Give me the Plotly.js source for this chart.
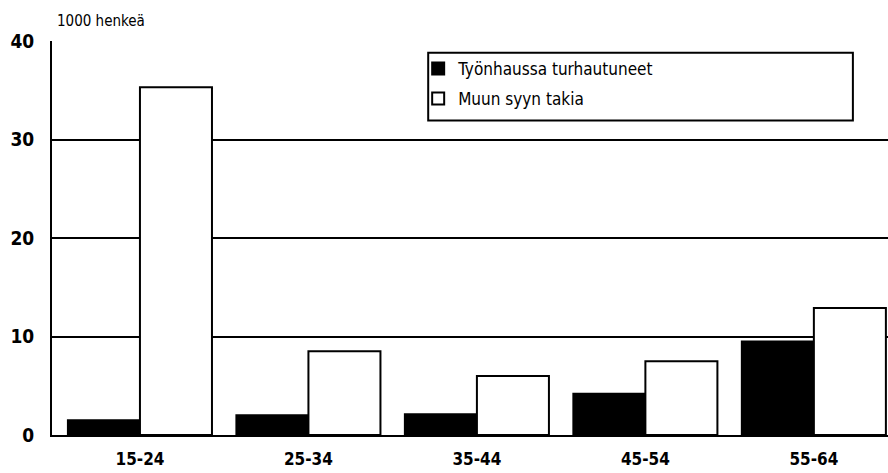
<!DOCTYPE html>
<html>
<head>
<meta charset="utf-8">
<script src="https://cdn.plot.ly/plotly-3.0.1.min.js"></script>
<style>html,body{margin:0;padding:0;background:#fff;}#chart{width:888px;height:473px;}</style>
</head>
<body>
<div id="chart"></div>
<script>
const categories = ["15-24", "25-34", "35-44", "45-54", "55-64"];
const seriesNames = ["Työnhaussa turhautuneet", "Muun syyn takia"];
const turhautuneet = [1.5, 2.0, 2.1, 4.2, 9.5];
const muunSyyn = [35.3, 8.5, 6.0, 7.5, 12.9];
const yTicks = [0, 10, 20, 30, 40];
const unitLabel = "1000 henkeä";

const FONT = "'DejaVu Sans Condensed', sans-serif";

const traces = [
  {type: "bar", name: seriesNames[0], x: categories, y: turhautuneet, legendgroup: "a",
   marker: {color: "#000", line: {color: "#000", width: 2}}},
  {type: "bar", name: seriesNames[1], x: categories, y: muunSyyn, legendgroup: "b",
   marker: {color: "#fff", line: {color: "#000", width: 2}}}
];

const layout = {
  width: 888, height: 473,
  margin: {l: 52, r: 0, t: 41, b: 38},
  paper_bgcolor: "#fff", plot_bgcolor: "#fff",
  font: {family: FONT, color: "#000", size: 16},
  barmode: "group", bargap: 0.145, bargroupgap: 0,
  showlegend: true,
  legend: {x: 0.438, y: 0.975, xanchor: "left", yanchor: "top",
    borderwidth: 0, bgcolor: "rgba(0,0,0,0)",
    font: {family: FONT, size: 17, color: "#000"},
    traceorder: "grouped", itemwidth: 30, tracegroupgap: 5},
  shapes: [{type: "rect", xref: "paper", yref: "paper",
    x0: 0.45, x1: 0.958, y0: 0.798, y1: 0.97,
    line: {color: "#000", width: 2}, fillcolor: "#fff", layer: "above"}],
  xaxis: {type: "category", range: [-0.522, 4.44], showgrid: false,
    showline: true, linecolor: "#000", linewidth: 2, ticks: "",
    ticklabelstandoff: 8,
    tickfont: {family: FONT, size: 17, color: "#000", weight: "bold"}, fixedrange: true},
  yaxis: {range: [0, 40], tickvals: yTicks, ticktext: yTicks.map(String),
    showgrid: true, gridcolor: "#000", gridwidth: 2,
    showline: true, linecolor: "#000", linewidth: 2, zeroline: false,
    ticks: "", ticklabelstandoff: 12,
    tickfont: {family: FONT, size: 19, color: "#000", weight: "bold"}, fixedrange: true},
  annotations: [{text: unitLabel, xref: "paper", yref: "paper", x: 0.004, y: 1.0,
    xanchor: "left", yanchor: "bottom", yshift: 9, showarrow: false,
    font: {family: FONT, size: 15, color: "#000"}}]
};

Plotly.newPlot("chart", traces, layout, {displayModeBar: false, staticPlot: true});
</script>
</body>
</html>
